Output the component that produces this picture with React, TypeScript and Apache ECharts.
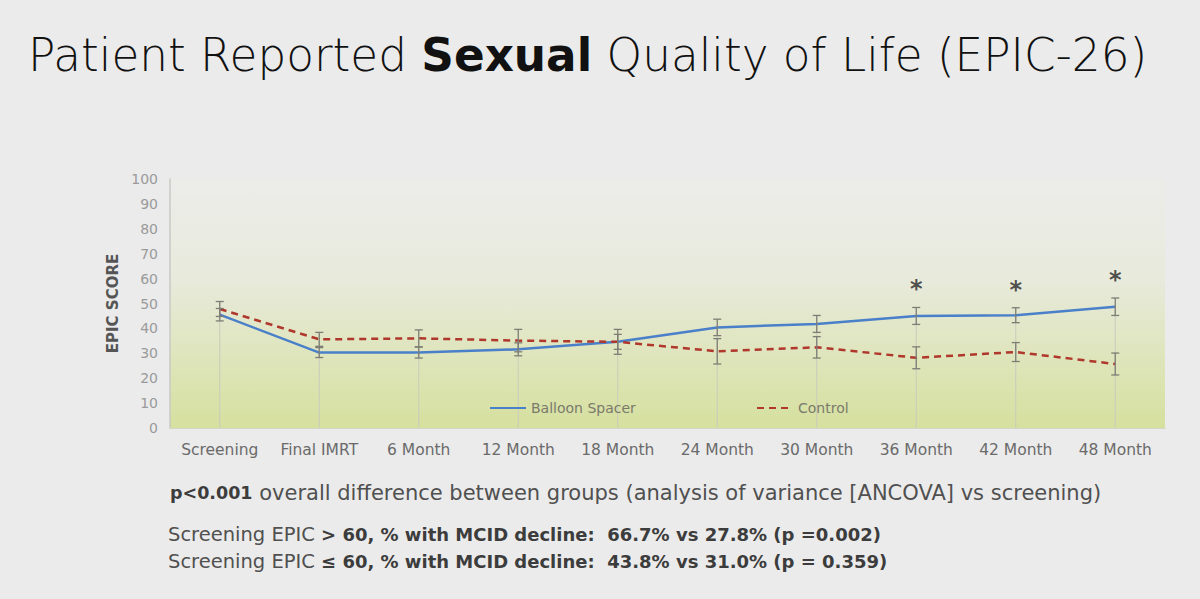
import React, { useEffect, useRef } from "react";
import * as echarts from "echarts";

// Time points of the EPIC-26 sexual domain follow-up
const categories = [
  "Screening",
  "Final IMRT",
  "6 Month",
  "12 Month",
  "18 Month",
  "24 Month",
  "30 Month",
  "36 Month",
  "42 Month",
  "48 Month",
];

// Mean EPIC scores per group
const balloon = [45.5, 30.3, 30.3, 31.6, 34.6, 40.4, 41.8, 45.0, 45.3, 48.7];
const control = [47.8, 35.6, 36.0, 35.1, 34.6, 30.8, 32.4, 28.2, 30.5, 25.7];

// Standard errors (half-length of each error bar)
const balloonErr = [2.5, 2.0, 2.2, 2.6, 3.0, 3.3, 3.4, 3.4, 3.0, 3.5];
const controlErr = [3.0, 2.8, 3.4, 4.5, 5.0, 5.1, 4.3, 4.4, 3.8, 4.4];

// Significance markers shown above the Balloon Spacer error bars
const sigMarks = ["", "", "", "", "", "", "", "*", "*", "*"];

const yTicks = { min: 0, max: 100, interval: 10 };

const FONT = "'DejaVu Sans', sans-serif";

export default function App() {
  const ref = useRef<HTMLDivElement>(null);

  useEffect(() => {
    if (!ref.current) return;
    const chart = echarts.init(ref.current, undefined, { renderer: "svg" });

    const errData = (vals: number[], errs: number[]) =>
      vals.map((v, i) => [i, v - errs[i], v + errs[i]]);

    const dropData = balloon.map((v, i) => [i, 0, Math.max(v, control[i])]);

    const errorBarRender = (params: any, api: any) => {
      const i = api.value(0);
      const lo = api.coord([i, api.value(1)]);
      const hi = api.coord([i, api.value(2)]);
      const cap = 4;
      const style = { stroke: "#7d7d75", lineWidth: 1.3 };
      return {
        type: "group",
        children: [
          { type: "line", shape: { x1: lo[0], y1: lo[1], x2: hi[0], y2: hi[1] }, style },
          { type: "line", shape: { x1: lo[0] - cap, y1: lo[1], x2: lo[0] + cap, y2: lo[1] }, style },
          { type: "line", shape: { x1: hi[0] - cap, y1: hi[1], x2: hi[0] + cap, y2: hi[1] }, style },
        ],
      };
    };

    const dropRender = (params: any, api: any) => {
      const i = api.value(0);
      const lo = api.coord([i, api.value(1)]);
      const hi = api.coord([i, api.value(2)]);
      return {
        type: "line",
        shape: { x1: lo[0], y1: lo[1], x2: hi[0], y2: hi[1] },
        style: { stroke: "#c9cbbd", lineWidth: 1 },
      };
    };

    const sigData = sigMarks
      .map((m, i) =>
        m ? { value: [i, balloon[i] + balloonErr[i]], label: { formatter: m } } : null
      )
      .filter(Boolean);

    const legendText = { color: "#7a7a6c", fontSize: 14, fontFamily: FONT };
    const hiddenSymbol = { color: "transparent", borderWidth: 0, opacity: 0 };

    const rich = (regSize: number, boldSize: number) => ({
      b: { fontSize: boldSize, fontFamily: FONT, fontWeight: "bold", fill: "#3c3c3c" },
      r: { fontSize: regSize, fontFamily: FONT, fill: "#505050" },
    });

    chart.setOption({
      animation: false,
      backgroundColor: "#ebebeb",
      textStyle: { fontFamily: FONT },
      grid: {
        left: 170,
        right: 35,
        top: 179,
        bottom: 171,
        show: true,
        borderWidth: 0,
        backgroundColor: new echarts.graphic.LinearGradient(0, 0, 0, 1, [
          { offset: 0, color: "#ecece9" },
          { offset: 0.4, color: "#e8eadc" },
          { offset: 1, color: "#d6e09e" },
        ]),
      },
      legend: [
        {
          data: [{ name: "Balloon Spacer", itemStyle: hiddenSymbol }],
          left: 484,
          top: 396,
          itemWidth: 36,
          itemHeight: 14,
          itemGap: 4,
          textStyle: legendText,
        },
        {
          data: [{ name: "Control", itemStyle: hiddenSymbol }],
          left: 751,
          top: 396,
          itemWidth: 36,
          itemHeight: 14,
          textStyle: legendText,
        },
      ],
      xAxis: {
        type: "category",
        data: categories,
        boundaryGap: true,
        axisLine: { show: true, lineStyle: { color: "#d4d6c8", width: 1 } },
        axisTick: { show: false },
        axisLabel: {
          color: "#6a6a6a",
          fontSize: 15.5,
          margin: 14,
          interval: 0,
          hideOverlap: false,
          fontFamily: FONT,
        },
        splitLine: { show: false },
      },
      yAxis: {
        type: "value",
        min: yTicks.min,
        max: yTicks.max,
        interval: yTicks.interval,
        name: "EPIC SCORE",
        nameLocation: "middle",
        nameGap: 38,
        nameTextStyle: { color: "#555555", fontSize: 15, fontWeight: "bold", fontFamily: FONT },
        axisLine: { show: true, lineStyle: { color: "#c8c8c4", width: 1.5 } },
        axisTick: { show: false },
        axisLabel: { color: "#9a9a9a", fontSize: 14, margin: 12, fontFamily: FONT },
        splitLine: { show: false },
      },
      series: [
        {
          type: "custom",
          name: "drop",
          renderItem: dropRender,
          data: dropData,
          encode: { x: 0, y: [1, 2] },
          z: 1,
          silent: true,
        },
        {
          type: "line",
          name: "Balloon Spacer",
          data: balloon,
          symbol: "none",
          lineStyle: { color: "#4a7fc9", width: 2.5 },
          itemStyle: { color: "#4a7fc9" },
          z: 3,
        },
        {
          type: "line",
          name: "Control",
          data: control,
          symbol: "none",
          lineStyle: { color: "#b0372c", width: 2.5, type: [7, 5] },
          itemStyle: { color: "#b0372c" },
          z: 3,
        },
        {
          type: "custom",
          name: "balloonErr",
          renderItem: errorBarRender,
          data: errData(balloon, balloonErr),
          encode: { x: 0, y: [1, 2] },
          z: 4,
          silent: true,
        },
        {
          type: "custom",
          name: "controlErr",
          renderItem: errorBarRender,
          data: errData(control, controlErr),
          encode: { x: 0, y: [1, 2] },
          z: 4,
          silent: true,
        },
        {
          type: "scatter",
          name: "sig",
          data: sigData,
          symbolSize: 0,
          z: 5,
          label: {
            show: true,
            position: "top",
            distance: 6,
            color: "#262626",
            fontSize: 24,
            fontWeight: "bold",
            fontFamily: FONT,
          },
          silent: true,
        },
      ],
      graphic: [
        {
          type: "text",
          left: 28,
          top: 33,
          style: {
            text: "{r|Patient Reported }{b|Sexual}{r| Quality of Life (EPIC-26)}",
            rich: {
              r: { fontSize: 45.3, fontFamily: FONT, fontWeight: 200, fill: "#111111" },
              b: { fontSize: 45.3, fontFamily: FONT, fontWeight: "bold", fill: "#111111" },
            },
          },
        },
        {
          type: "text",
          left: 170,
          top: 482,
          style: {
            text: "{b|p<0.001}{r| overall difference between groups (analysis of variance [ANCOVA] vs screening)}",
            rich: rich(21, 17.5),
          },
        },
        {
          type: "text",
          left: 168,
          top: 524,
          style: {
            text: "{r|Screening EPIC }{b|> 60, % with MCID decline:  66.7% vs 27.8% (p =0.002)}",
            rich: rich(19.5, 18),
          },
        },
        {
          type: "text",
          left: 168,
          top: 551,
          style: {
            text: "{r|Screening EPIC }{b|≤ 60, % with MCID decline:  43.8% vs 31.0% (p = 0.359)}",
            rich: rich(19.5, 18),
          },
        },
      ],
    });

    return () => chart.dispose();
  }, []);

  return (
    <div
      ref={ref}
      style={{ position: "fixed", left: 0, top: 0, width: 1200, height: 599 }}
    />
  );
}
